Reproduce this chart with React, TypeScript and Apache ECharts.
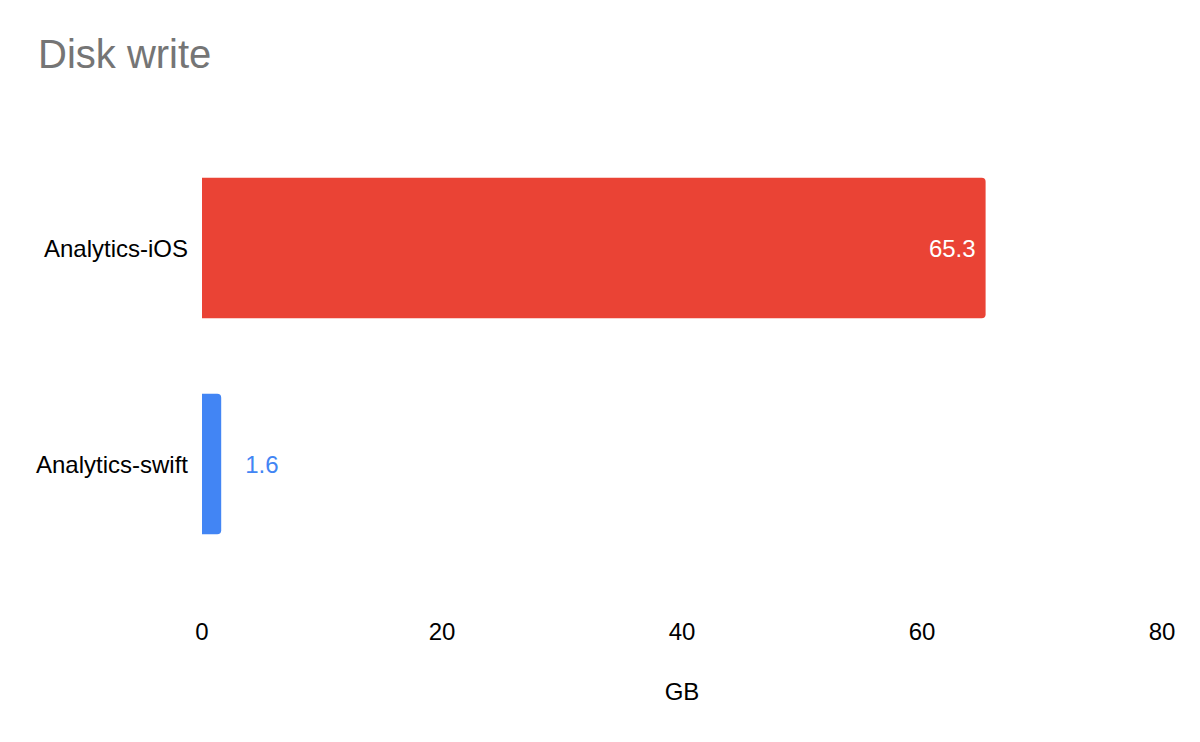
import React, { useEffect, useRef } from 'react';
import * as echarts from 'echarts';

const categories = ['Analytics-iOS', 'Analytics-swift'];
const values = [65.3, 1.6];
const barColors = ['#EA4335', '#4285F4'];
const xTicks = [0, 20, 40, 60, 80];

const FONT = '"Liberation Sans", Arial, sans-serif';

export default function App() {
    const chartRef = useRef<HTMLDivElement>(null);

    useEffect(() => {
        const myChart = echarts.init(chartRef.current, null, { renderer: 'svg' });

        myChart.setOption({
            animation: false,
            textStyle: { fontFamily: FONT },
            title: {
                text: 'Disk write',
                left: 25,
                top: 21,
                textStyle: { fontSize: 40, fontWeight: 'normal', color: '#757575', fontFamily: FONT },
            },
            grid: { left: 194, right: 30, top: 132, bottom: 162, containLabel: false },
            xAxis: {
                type: 'value',
                min: xTicks[0],
                max: xTicks[xTicks.length - 1],
                interval: 20,
                name: 'GB',
                nameLocation: 'middle',
                nameGap: 107,
                nameTextStyle: { fontSize: 24, color: '#000' },
                axisLine: { show: false },
                axisTick: { show: false },
                splitLine: { show: false },
                axisLabel: { fontSize: 24, color: '#000', margin: 47 },
            },
            yAxis: {
                type: 'category',
                inverse: true,
                data: categories,
                axisLine: { show: false },
                axisTick: { show: false },
                axisLabel: { fontSize: 24, color: '#000', margin: 14 },
            },
            series: [
                {
                    type: 'bar',
                    barWidth: '65%',
                    data: values.map((v, i) => ({
                        value: v,
                        itemStyle: { color: barColors[i], borderRadius: [0, 4, 4, 0] },
                        label: i === 0
                            ? { show: true, position: 'insideRight', distance: 10, color: '#fff', fontSize: 24 }
                            : { show: true, position: 'right', distance: 24, color: barColors[i], fontSize: 24 },
                    })),
                },
            ],
        });

        return () => {
            myChart.dispose();
        };
    }, []);

    return <div ref={chartRef} style={{ width: 1184, height: 726 }} />;
}
